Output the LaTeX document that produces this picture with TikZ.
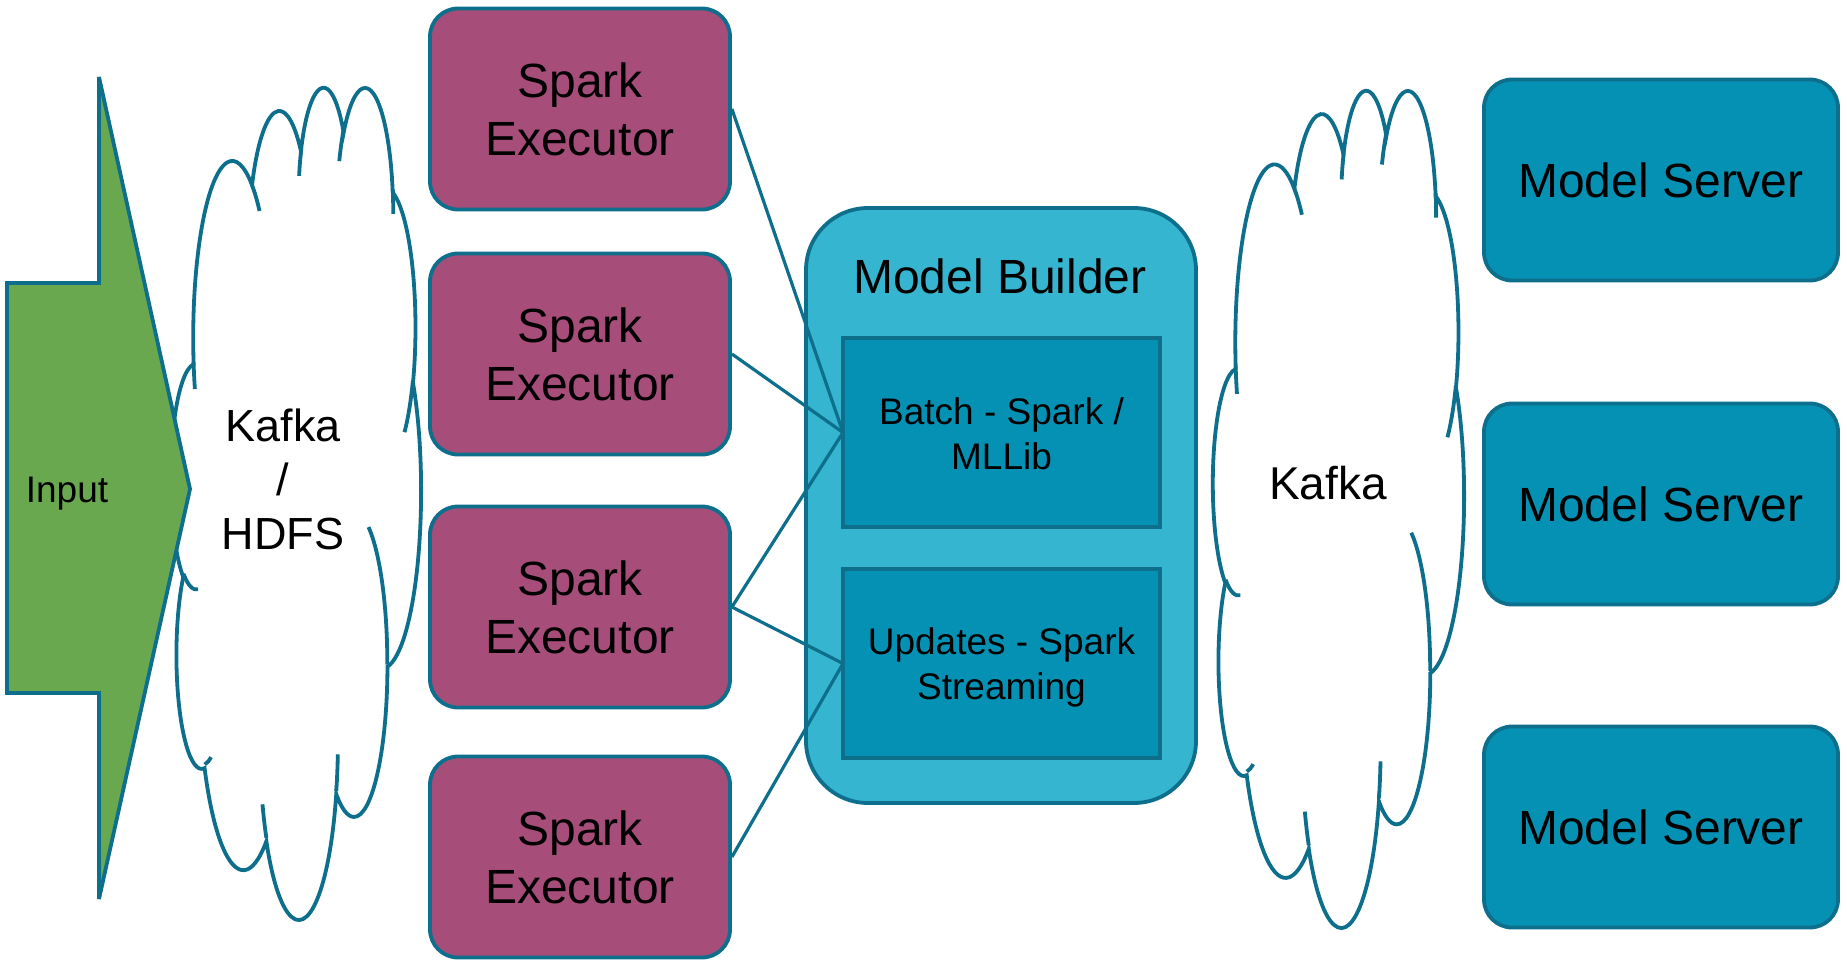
\documentclass[tikz,border=0pt]{standalone}
\usepackage{fontspec}
\setmainfont{Liberation Sans}
\definecolor{edge}{HTML}{0E6F8C}
\definecolor{sparkfill}{HTML}{A64D79}
\definecolor{serverfill}{HTML}{0591B3}
\definecolor{builderfill}{HTML}{35B5CF}
\definecolor{innerfill}{HTML}{0591B3}
\definecolor{inputfill}{HTML}{6AA84F}

% DrawingML-style arcTo: wR hR stAng swAng (degrees)
\newcommand\cldarc[4]{%
  \pgfextra{%
    \pgfmathsetmacro\cldS{atan2((#1)*sin(#3),(#2)*cos(#3))}%
    \pgfmathsetmacro\cldE{atan2((#1)*sin((#3)+(#4)),(#2)*cos((#3)+(#4)))}%
    \pgfmathsetmacro\cldD{mod(\cldE-(\cldS)+720,360)}%
    \pgfmathsetmacro\cldD{(#4)<0 ? \cldD-360 : \cldD}%
  }%
  arc[start angle=\cldS, delta angle=\cldD, x radius=#1, y radius=#2]%
}

\newcommand\drawcloud[4]{% x0 y0 w h
  \begin{scope}[shift={(#1,#2)}, x={#3pt/432}, y={-#4pt/432}]
    \filldraw[cloudline, fill=white] (39.00,143.70)
      \cldarc{67.53}{91.90}{-190.4875}{123.7805}
      \cldarc{53.33}{72.67}{-144.1024}{89.9452}
      \cldarc{43.65}{59.45}{-145.8079}{99.7230}
      \cldarc{48.57}{65.95}{-130.9861}{117.2417}
      \cldarc{53.33}{72.73}{-78.7089}{109.0269}
      \cldarc{67.75}{92.20}{-46.2673}{130.2690}
      \cldarc{57.85}{78.67}{0.6250}{114.0333}
      \cldarc{67.52}{92.15}{22.4516}{115.1726}
      \cldarc{77.20}{105.43}{66.2426}{75.7110}
      \cldarc{43.60}{59.18}{-274.9421}{146.7356}
      \cldarc{43.45}{59.45}{-246.8285}{152.5189}
      -- cycle;
    \draw[cloudline]
      (46.93,261.77) \cldarc{43.45}{59.45}{86.742}{26.4295}
      (69.28,348.99) \cldarc{43.60}{59.18}{73.6105}{11.4475}
      (164.78,390.90) \cldarc{67.52}{92.15}{137.6242}{14.0811}
      (288.27,347.51) \cldarc{67.52}{92.15}{6.4533}{15.9984}
      (341.29,229.54) \cldarc{57.85}{78.67}{-70.2924}{70.9174}
      (417.98,153.54) \cldarc{53.33}{72.73}{30.318}{27.75}
      (383.24,54.26) \cldarc{48.57}{65.95}{-13.7443}{14.8589}
      (290.78,39.52) \cldarc{48.57}{65.95}{-149.1815}{18.1954}
      (221.41,47.20) \cldarc{43.65}{59.45}{-163.4943}{17.6864}
      (140.00,51.92) \cldarc{67.53}{91.90}{-66.7070}{12.3194}
      (41.27,157.89) \cldarc{67.53}{91.90}{157.6544}{11.8582};
  \end{scope}
}

\tikzset{
  cloudline/.style={draw=edge, line width=3.8pt},
  sparkbox/.style={draw=edge, line width=3.8pt, fill=sparkfill, rounded corners=28pt,
    minimum width=300pt, minimum height=201pt, align=center, inner sep=0pt,
    font=\fontsize{48}{58}\selectfont},
  serverbox/.style={draw=edge, line width=3.8pt, fill=serverfill, rounded corners=28pt,
    minimum width=354pt, minimum height=201pt, align=center, inner sep=0pt,
    font=\fontsize{48}{58}\selectfont},
  builderbox/.style={draw=edge, line width=3.8pt, fill=builderfill, rounded corners=62pt,
    minimum width=390pt, minimum height=595pt, inner sep=0pt},
  innerbox/.style={draw=edge, line width=3.8pt, fill=innerfill,
    minimum width=317pt, minimum height=189pt, inner sep=0pt},
  innertext/.style={align=center, inner sep=0pt, font=\fontsize{37}{45}\selectfont},
  conn/.style={draw=edge, line width=3.2pt},
  arrowshape/.style={draw=edge, line width=3.8pt, fill=inputfill, line join=miter, miter limit=2},
  plaintext/.style={align=center, inner sep=0pt},
}

\begin{document}
\begin{tikzpicture}[x=1pt, y=-1pt]
\useasboundingbox (0,0) rectangle (1847,960);

% clouds
\drawcloud{171}{85}{250}{832}
\drawcloud{1213}{88}{251}{837}

% input arrow
\coordinate (a1) at (7,283);
\coordinate (a2) at (99,283);
\coordinate (a3) at (99,77);
\coordinate (a4) at (190,489);
\coordinate (a5) at (99,899);
\coordinate (a6) at (99,693);
\coordinate (a7) at (7,693);
\draw[arrowshape] (a1) -- (a2) -- (a3) -- (a4) -- (a5) -- (a6) -- (a7) -- cycle;
\node[plaintext, anchor=base, font=\fontsize{37}{44}\selectfont] (input) at (67,502) {Input};

\node[plaintext, font=\fontsize{45}{54}\selectfont] (kafka1) at (283,479) {Kafka\\/\\HDFS};
\node[plaintext, font=\fontsize{46}{55}\selectfont] (kafka2) at (1328,483) {Kafka};

% spark executors
\node[sparkbox] (s1) at (580,109) {Spark\\Executor};
\node[sparkbox] (s2) at (580,354) {Spark\\Executor};
\node[sparkbox] (s3) at (580,607) {Spark\\Executor};
\node[sparkbox] (s4) at (580,857) {Spark\\Executor};

% model builder
\node[builderbox] (mb) at (1001,505.5) {};
\node[plaintext, font=\fontsize{48}{58}\selectfont] (mbt) at (1000,276) {Model Builder};

% connectors
\draw[conn] (s1.east) -- (843,432.5) coordinate (bw);
\draw[conn] (s2.east) -- (bw);
\draw[conn] (s3.east) -- (bw);
\draw[conn] (s3.east) -- (843,663.5) coordinate (uw);
\draw[conn] (s4.east) -- (uw);

\node[innerbox] (batch) at (1001.5,432.5) {};
\node[innertext] (batcht) at (1001.5,434) {Batch - Spark /\\MLLib};
\node[innerbox] (upd) at (1001.5,663.5) {};
\node[innertext] (updt) at (1001.5,667) {Updates - Spark\\Streaming};

% model servers
\node[serverbox] (m1) at (1661,180) {Model Server};
\node[serverbox] (m2) at (1661,504) {Model Server};
\node[serverbox] (m3) at (1661,827) {Model Server};
\end{tikzpicture}
\end{document}
